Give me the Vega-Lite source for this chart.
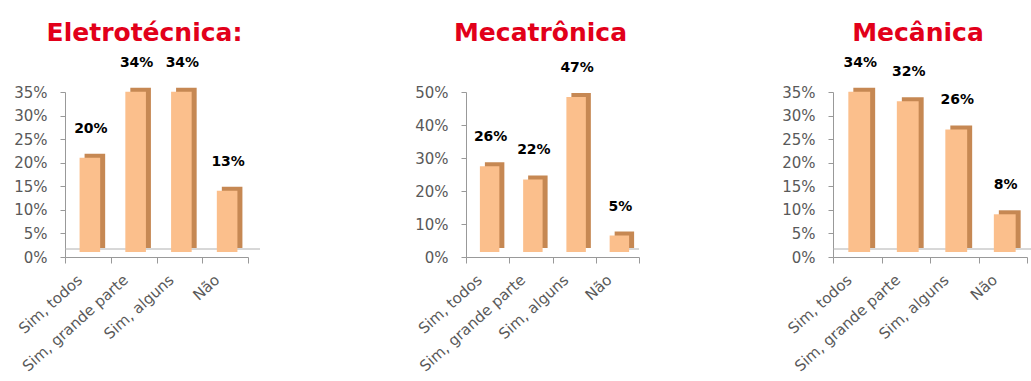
{
  "$schema": "https://vega.github.io/schema/vega-lite/v6.json",
  "background": "white",
  "padding": {"left": 13, "top": 20, "right": 0, "bottom": 0},
  "datasets": {
    "d": [
      {"curso": "Eletrotécnica", "resposta": "Sim, todos", "valor": 0.20},
      {"curso": "Eletrotécnica", "resposta": "Sim, grande parte", "valor": 0.34},
      {"curso": "Eletrotécnica", "resposta": "Sim, alguns", "valor": 0.34},
      {"curso": "Eletrotécnica", "resposta": "Não", "valor": 0.13},
      {"curso": "Mecatrônica", "resposta": "Sim, todos", "valor": 0.26},
      {"curso": "Mecatrônica", "resposta": "Sim, grande parte", "valor": 0.22},
      {"curso": "Mecatrônica", "resposta": "Sim, alguns", "valor": 0.47},
      {"curso": "Mecatrônica", "resposta": "Não", "valor": 0.05},
      {"curso": "Mecânica", "resposta": "Sim, todos", "valor": 0.34},
      {"curso": "Mecânica", "resposta": "Sim, grande parte", "valor": 0.32},
      {"curso": "Mecânica", "resposta": "Sim, alguns", "valor": 0.26},
      {"curso": "Mecânica", "resposta": "Não", "valor": 0.08}
    ],
    "zero": [{"z": 0}]
  },
  "config": {
    "view": {"stroke": null},
    "font": "DejaVu Sans",
    "axis": {
      "labelFont": "DejaVu Sans",
      "labelColor": "#595959",
      "domainColor": "#999999",
      "tickColor": "#999999",
      "grid": false,
      "title": null
    },
    "axisY": {"labelPadding": 13, "tickSize": 5, "labelFontSize": 15},
    "axisX": {"labelAngle": -42, "tickBand": "extent", "tickSize": 6, "labelPadding": 9, "labelOffset": -13, "labelFontSize": 15},
    "scale": {"bandPaddingInner": 0, "bandPaddingOuter": 0},
    "title": {"font": "DejaVu Sans", "fontSize": 25, "fontWeight": "bold", "color": "#E2001A", "dx": -12, "offset": 10},
    "text": {"font": "DejaVu Sans", "fontSize": 14, "fontWeight": "bold", "color": "#000000"}
  },
  "bounds": "flush",
  "spacing": 218,
  "hconcat": [
    {
      "width": 183,
      "height": 165,
      "title": "Eletrotécnica:",
      "layer": [
        {
          "data": {"name": "zero"},
          "mark": {"type": "rule", "color": "#b0b0b0", "xOffset": 12, "yOffset": -8},
          "encoding": {"y": {"field": "z", "type": "quantitative", "scale": {"domain": [0, 0.35]}, "axis": {"values": [0, 0.05, 0.1, 0.15, 0.2, 0.25, 0.3, 0.35], "format": ".0%"}}}
        },
        {
          "data": {"name": "d"},
          "transform": [{"filter": "datum.curso === 'Eletrotécnica'"}],
          "mark": {"type": "bar", "color": "#C68853", "xOffset": 7, "yOffset": -9, "width": {"band": 0.45}},
          "encoding": {
            "x": {"field": "resposta", "type": "nominal", "sort": null},
            "y": {"field": "valor", "type": "quantitative", "scale": {"domain": [0, 0.35]}, "axis": {"values": [0, 0.05, 0.1, 0.15, 0.2, 0.25, 0.3, 0.35], "format": ".0%"}}
          }
        },
        {
          "data": {"name": "d"},
          "transform": [{"filter": "datum.curso === 'Eletrotécnica'"}],
          "mark": {"type": "bar", "color": "#FBBF8C", "xOffset": 2, "yOffset": -5, "width": {"band": 0.45}},
          "encoding": {
            "x": {"field": "resposta", "type": "nominal", "sort": null},
            "y": {"field": "valor", "type": "quantitative", "scale": {"domain": [0, 0.35]}, "axis": {"values": [0, 0.05, 0.1, 0.15, 0.2, 0.25, 0.3, 0.35], "format": ".0%"}}
          }
        },
        {
          "data": {"name": "d"},
          "transform": [{"filter": "datum.curso === 'Eletrotécnica'"}],
          "mark": {"type": "text", "baseline": "alphabetic", "dy": -30, "dx": 3},
          "encoding": {
            "x": {"field": "resposta", "type": "nominal", "sort": null},
            "y": {"field": "valor", "type": "quantitative", "scale": {"domain": [0, 0.35]}, "axis": {"values": [0, 0.05, 0.1, 0.15, 0.2, 0.25, 0.3, 0.35], "format": ".0%"}},
            "text": {"field": "valor", "type": "quantitative", "format": ".0%"}
          }
        }
      ]
    },
    {
      "width": 149,
      "height": 165,
      "title": {"text": "Mecatrônica", "dx": 0, "offset": 15},
      "layer": [
        {
          "data": {"name": "zero"},
          "mark": {"type": "rule", "color": "#b0b0b0", "xOffset": 12, "yOffset": -8, "x2": 173},
          "encoding": {"y": {"field": "z", "type": "quantitative", "scale": {"domain": [0, 0.5]}, "axis": {"values": [0, 0.1, 0.2, 0.3, 0.4, 0.5], "format": ".0%"}}}
        },
        {
          "data": {"name": "d"},
          "transform": [{"filter": "datum.curso === 'Mecatrônica'"}],
          "mark": {"type": "bar", "color": "#C68853", "xOffset": 7, "yOffset": -9, "width": {"band": 0.45}},
          "encoding": {
            "x": {"field": "resposta", "type": "nominal", "sort": null, "scale": {"range": [0, 173]}},
            "y": {"field": "valor", "type": "quantitative", "scale": {"domain": [0, 0.5]}, "axis": {"values": [0, 0.1, 0.2, 0.3, 0.4, 0.5], "format": ".0%"}}
          }
        },
        {
          "data": {"name": "d"},
          "transform": [{"filter": "datum.curso === 'Mecatrônica'"}],
          "mark": {"type": "bar", "color": "#FBBF8C", "xOffset": 2, "yOffset": -5, "width": {"band": 0.45}},
          "encoding": {
            "x": {"field": "resposta", "type": "nominal", "sort": null},
            "y": {"field": "valor", "type": "quantitative", "scale": {"domain": [0, 0.5]}, "axis": {"values": [0, 0.1, 0.2, 0.3, 0.4, 0.5], "format": ".0%"}}
          }
        },
        {
          "data": {"name": "d"},
          "transform": [{"filter": "datum.curso === 'Mecatrônica'"}],
          "mark": {"type": "text", "baseline": "alphabetic", "dy": -30, "dx": 3},
          "encoding": {
            "x": {"field": "resposta", "type": "nominal", "sort": null},
            "y": {"field": "valor", "type": "quantitative", "scale": {"domain": [0, 0.5]}, "axis": {"values": [0, 0.1, 0.2, 0.3, 0.4, 0.5], "format": ".0%"}},
            "text": {"field": "valor", "type": "quantitative", "format": ".0%"}
          }
        }
      ]
    },
    {
      "width": 194,
      "height": 165,
      "title": "Mecânica",
      "layer": [
        {
          "data": {"name": "zero"},
          "mark": {"type": "rule", "color": "#b0b0b0", "xOffset": 12, "yOffset": -8},
          "encoding": {"y": {"field": "z", "type": "quantitative", "scale": {"domain": [0, 0.35]}, "axis": {"values": [0, 0.05, 0.1, 0.15, 0.2, 0.25, 0.3, 0.35], "format": ".0%"}}}
        },
        {
          "data": {"name": "d"},
          "transform": [{"filter": "datum.curso === 'Mecânica'"}],
          "mark": {"type": "bar", "color": "#C68853", "xOffset": 7, "yOffset": -9, "width": {"band": 0.45}},
          "encoding": {
            "x": {"field": "resposta", "type": "nominal", "sort": null},
            "y": {"field": "valor", "type": "quantitative", "scale": {"domain": [0, 0.35]}, "axis": {"values": [0, 0.05, 0.1, 0.15, 0.2, 0.25, 0.3, 0.35], "format": ".0%"}}
          }
        },
        {
          "data": {"name": "d"},
          "transform": [{"filter": "datum.curso === 'Mecânica'"}],
          "mark": {"type": "bar", "color": "#FBBF8C", "xOffset": 2, "yOffset": -5, "width": {"band": 0.45}},
          "encoding": {
            "x": {"field": "resposta", "type": "nominal", "sort": null},
            "y": {"field": "valor", "type": "quantitative", "scale": {"domain": [0, 0.35]}, "axis": {"values": [0, 0.05, 0.1, 0.15, 0.2, 0.25, 0.3, 0.35], "format": ".0%"}}
          }
        },
        {
          "data": {"name": "d"},
          "transform": [{"filter": "datum.curso === 'Mecânica'"}],
          "mark": {"type": "text", "baseline": "alphabetic", "dy": -30, "dx": 3},
          "encoding": {
            "x": {"field": "resposta", "type": "nominal", "sort": null},
            "y": {"field": "valor", "type": "quantitative", "scale": {"domain": [0, 0.35]}, "axis": {"values": [0, 0.05, 0.1, 0.15, 0.2, 0.25, 0.3, 0.35], "format": ".0%"}},
            "text": {"field": "valor", "type": "quantitative", "format": ".0%"}
          }
        }
      ]
    }
  ]
}
